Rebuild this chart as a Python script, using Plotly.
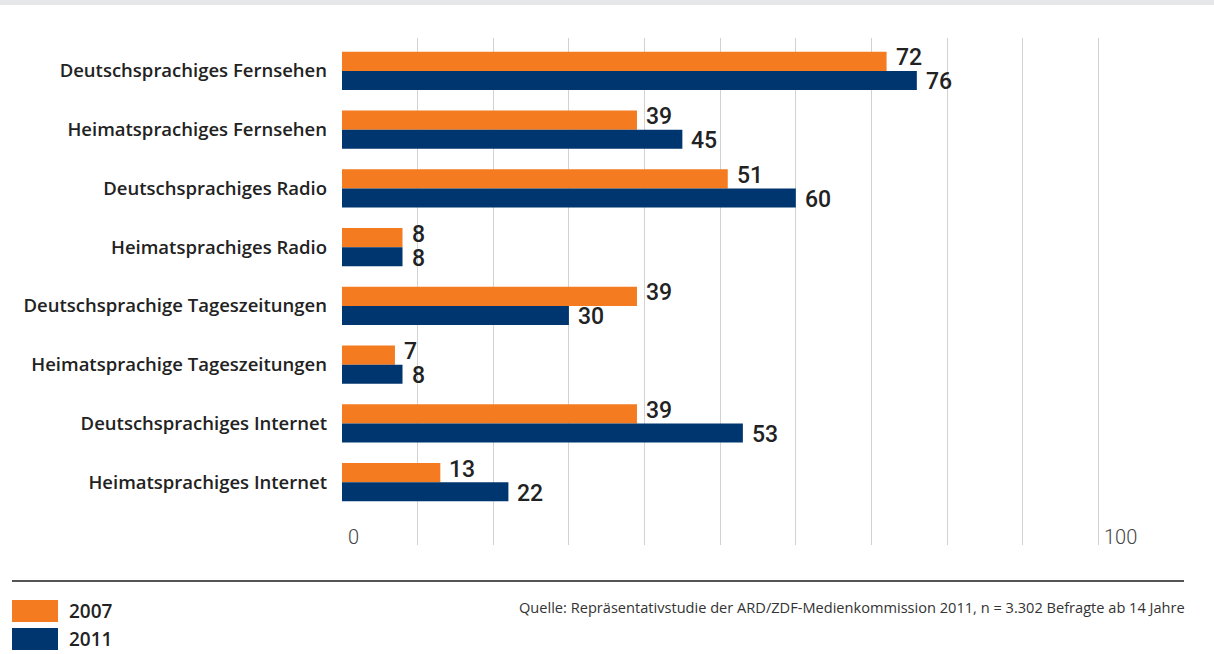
import plotly.graph_objects as go

categories = [
    "Deutschsprachiges Fernsehen",
    "Heimatsprachiges Fernsehen",
    "Deutschsprachiges Radio",
    "Heimatsprachiges Radio",
    "Deutschsprachige Tageszeitungen",
    "Heimatsprachige Tageszeitungen",
    "Deutschsprachiges Internet",
    "Heimatsprachiges Internet",
]
series_names = ["2007", "2011"]
values_2007 = [72, 39, 51, 8, 39, 7, 39, 13]
values_2011 = [76, 45, 60, 8, 30, 8, 53, 22]
x_ticks = [0, 10, 20, 30, 40, 50, 60, 70, 80, 90, 100]
x_tick_labels = ["0", "", "", "", "", "", "", "", "", "", "100"]
source_text = "Quelle: Repräsentativstudie der ARD/ZDF-Medienkommission 2011, n = 3.302 Befragte ab 14 Jahre"

colors = ["#F47B20", "#00366F"]
FONT = "Open Sans"
NUM_FONT = "Roboto"

W, H = 1214, 654
ML, MR, MT, MB = 342, 40, 38, 109
plot_w = W - ML - MR
plot_h = H - MT - MB


def px_x(px):
    return (px - ML) / plot_w


def px_y(py):
    return (H - MB - py) / plot_h


fig = go.Figure()
annotations = []
label_yshift = [13, -11]
for si, (name, vals, col) in enumerate(zip(series_names, [values_2007, values_2011], colors)):
    fig.add_trace(go.Bar(
        y=categories, x=vals, orientation="h", name=name,
        marker=dict(color=col, line=dict(width=0)),
        showlegend=False, hoverinfo="skip",
    ))
    for cat, v in zip(categories, vals):
        annotations.append(dict(xref="x", yref="y", x=v, y=cat, text=str(v),
                                showarrow=False, xanchor="left", yanchor="middle",
                                xshift=7, yshift=label_yshift[si],
                                font=dict(family=NUM_FONT, size=23, color="#222222", weight=500)))

fig.update_layout(
    width=W, height=H,
    barmode="group", bargap=0.35, bargroupgap=0,
    plot_bgcolor="white", paper_bgcolor="white",
    margin=dict(l=ML, r=MR, t=MT, b=MB),
    font=dict(family=FONT, color="#222222"),
    xaxis=dict(
        range=[0, 110], tickvals=x_ticks, ticktext=x_tick_labels,
        showgrid=True, gridcolor="#d2d2d2", gridwidth=1,
        zeroline=False, showline=False, showticklabels=False, ticks="",
    ),
    yaxis=dict(
        type="category", categoryorder="array", categoryarray=categories,
        range=[8.07, -0.56], showgrid=False, zeroline=False, showline=False,
        ticks="", ticklabelstandoff=14,
        tickfont=dict(family=FONT, size=18.5, color="#222222", weight=600),
    ),
)

shape_list = [
    dict(type="rect", xref="paper", yref="paper", x0=px_x(0), x1=px_x(W),
         y0=px_y(5), y1=px_y(0), fillcolor="#E6E7E9", line=dict(width=0), layer="below"),
    dict(type="line", xref="paper", yref="paper", x0=px_x(12), x1=px_x(1184),
         y0=px_y(581), y1=px_y(581), line=dict(color="#555555", width=2)),
]
for tv, tl in zip(x_ticks, x_tick_labels):
    if tl:
        annotations.append(dict(xref="x", yref="paper", x=tv, y=px_y(537), text=tl,
                                showarrow=False, xanchor="left", yanchor="middle", xshift=4,
                                font=dict(family="Roboto", size=20, color="#444444", weight=300)))
for i, (name, col) in enumerate(zip(series_names, colors)):
    top = 600 + i * 28
    shape_list.append(dict(type="rect", xref="paper", yref="paper",
                           x0=px_x(12), x1=px_x(58), y0=px_y(top + 22), y1=px_y(top),
                           fillcolor=col, line=dict(width=0)))
    annotations.append(dict(xref="paper", yref="paper", x=px_x(67), y=px_y(top + 11),
                            text=name, showarrow=False, xanchor="left", yanchor="middle",
                            font=dict(family=FONT, size=19, color="#222222", weight=600)))
annotations.append(dict(xref="paper", yref="paper", x=px_x(1187), y=px_y(607),
                        text=source_text, showarrow=False, xanchor="right", yanchor="middle",
                        font=dict(family=FONT, size=14.6, color="#333333")))
fig.update_layout(shapes=shape_list, annotations=annotations)

fig.write_html("out.html", config={"displayModeBar": False},
               post_script="document.body.style.margin='0';")
